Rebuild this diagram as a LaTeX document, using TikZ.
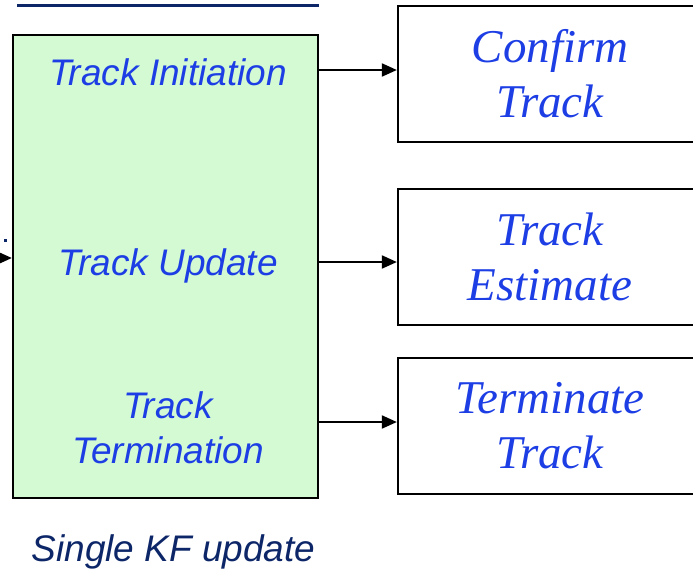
\documentclass[tikz,border=0pt]{standalone}
\usepackage{fontspec}
\setmainfont{Liberation Serif}
\setsansfont{Liberation Sans}
\usepackage{tikz}
\usetikzlibrary{arrows.meta}
\definecolor{kfgreen}{RGB}{212,250,212}
\definecolor{kfblue}{RGB}{28,62,228}
\definecolor{kfnavy}{RGB}{12,38,104}

\begin{document}
\begin{tikzpicture}[x=1pt,y=-1pt,
  stage/.style={draw,line width=2.3pt,fill=kfgreen,minimum width=305pt,minimum height=463pt},
  result/.style={draw,line width=2.3pt,minimum width=304pt,minimum height=136pt,align=center,
    text=kfblue,font=\fontsize{47}{55}\selectfont\itshape},
  phase/.style={anchor=base,text=kfblue,font=\fontsize{37}{45}\sffamily\itshape},
  link/.style={line width=2pt,-{Triangle[length=15pt,width=13pt]}}]
\useasboundingbox (0,0) rectangle (693,571);
\clip (0,0) rectangle (693,571);
% underline of the heading above
\draw [kfnavy,line width=3.5pt] (17,5.5) -- (319,5.5);
\fill [kfnavy] (3.5,238.5) rectangle (7,242);
\node [stage] (kf) at (165.5,266.5) {};
\node [phase] (ini) at (168,85) {Track Initiation};
\node [phase] (upd) at (168,275) {Track Update};
\node [phase,align=center] (term) at (168,463) {Track\\Termination};
\node [phase,text=kfnavy] (cap) at (173.5,561) {Single KF update};
\node [result] (confirm) at (550,74) {Confirm\\Track};
\node [result] (est) at (550,257) {Track\\Estimate};
\node [result] (stop) at (550,426) {Terminate\\Track};
\coordinate (in) at (-2,258);
\draw [link] (in) -- (kf.west |- in);
\draw [link] (kf.east |- 0,70) -- (confirm.west |- 0,70);
\draw [link] (kf.east |- 0,262) -- (est.west |- 0,262);
\draw [link] (kf.east |- 0,422) -- (stop.west |- 0,422);
\end{tikzpicture}
\end{document}
